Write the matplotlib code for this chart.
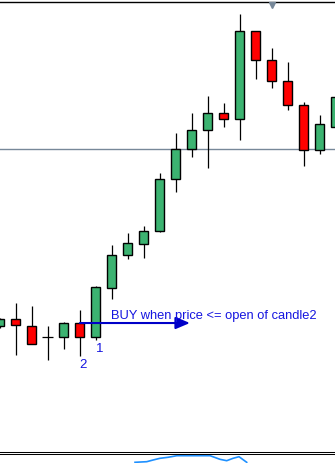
import matplotlib
matplotlib.use('Agg')
import matplotlib.pyplot as plt

plt.rcParams['font.family'] = ['Liberation Sans', 'DejaVu Sans']

# candle data (index, open, high, low, close)
opens = [173.7, 180.7, 173.7, 162.7, 162.7, 177.0, 163.3, 211.7, 244.7, 255.7, 268.7,
         320.7, 350.7, 369.7, 386.7, 380.7, 468.7, 439.7, 418.7, 394.7, 349.7, 372.7]
highs = [182.0, 196.7, 194.0, 173.7, 178.0, 190.0, 214.0, 255.0, 267.0, 274.0, 326.7,
         366.7, 387.0, 404.0, 397.0, 486.0, 468.7, 452.0, 438.0, 398.0, 385.0, 410.0]
lows = [172.0, 145.3, 155.7, 140.3, 151.3, 144.0, 160.0, 201.3, 241.3, 242.3, 267.7,
        308.3, 343.3, 332.3, 373.3, 360.3, 421.3, 412.0, 390.3, 334.3, 346.3, 370.0]
closes = [180.7, 174.7, 155.7, 162.7, 177.0, 163.3, 212.7, 244.7, 256.7, 268.7, 320.7,
          350.7, 369.7, 386.7, 380.7, 468.7, 439.7, 418.7, 394.7, 349.7, 375.7, 402.7]

level = 350.7          # horizontal price line
marker_idx = 17        # small triangle at the top
entry_idx = 5          # candle 2
signal_idx = 6         # candle 1
arrow_end = 11.9
label_text = 'BUY when price <= open of candle2'

# indicator in the bottom strip
ind_x = [8.47, 9.2, 9.6, 10.03, 10.53, 11.08, 13.16, 13.78, 14.2, 14.6, 14.97, 15.45]
ind_y = [0.7, 1.3, 3.0, 4.7, 5.7, 7.3, 7.3, 3.7, 2.3, 4.7, 6.3, 0.7]

fig = plt.figure(figsize=(3.35, 4.63), dpi=100)
ax = fig.add_axes([0, 0.0248, 1, 0.9702])
ax2 = fig.add_axes([0, 0, 1, 0.0205])

up_color = '#3CB371'
down_color = '#FF0000'

for i in range(len(opens)):
    o, h, l, c = opens[i], highs[i], lows[i], closes[i]
    ax.vlines(i, l, h, color='black', linewidth=0.9, zorder=2)
    if o == c:
        ax.hlines(o, i - 0.33, i + 0.33, color='black', linewidth=0.9, zorder=3)
        continue
    col = up_color if c > o else down_color
    ax.bar(i, abs(c - o), bottom=min(o, c), width=0.6, color=col,
           edgecolor='black', linewidth=1.0, zorder=3)

ax.axhline(level, color='#778899', linewidth=1.0, zorder=1)
ax.plot([marker_idx], [494.8], marker='v', color='#778899', markersize=5,
        clip_on=False, zorder=5)

ax.annotate('', xy=(arrow_end, opens[entry_idx]), xytext=(entry_idx + 0.03, opens[entry_idx]),
            arrowprops=dict(arrowstyle='-|>,head_length=0.85,head_width=0.36',
                            color='#0000C8', lw=1.5, shrinkA=0, shrinkB=0,
                            mutation_scale=10),
            zorder=6)
ax.text(6.97, 180.7, label_text, color='#1515E0', fontsize=9.3, va='baseline', ha='left', zorder=7)
ax.text(entry_idx, 132.3, '2', color='#1515E0', fontsize=9.5, va='baseline', ha='left')
ax.text(signal_idx + 0.03, 147.7, '1', color='#1515E0', fontsize=9.5, va='baseline', ha='left')

ax.set_xlim(0.03125, 20.96875)
ax.set_ylim(48.5, 497.7)
ax.set_xticks([])
ax.set_yticks([])
for s in ['left', 'right']:
    ax.spines[s].set_visible(False)
ax.spines['top'].set_linewidth(1.0)
ax.spines['bottom'].set_linewidth(0.75)

ax2.plot(ind_x, ind_y, color='#1E90FF', linewidth=1.2)
ax2.set_xlim(0.03125, 20.96875)
ax2.set_ylim(0, 9.5)
ax2.set_xticks([])
ax2.set_yticks([])
for s in ['left', 'right', 'bottom']:
    ax2.spines[s].set_visible(False)
ax2.spines['top'].set_linewidth(0.75)

fig.savefig('out.png', dpi=100, facecolor='white')
